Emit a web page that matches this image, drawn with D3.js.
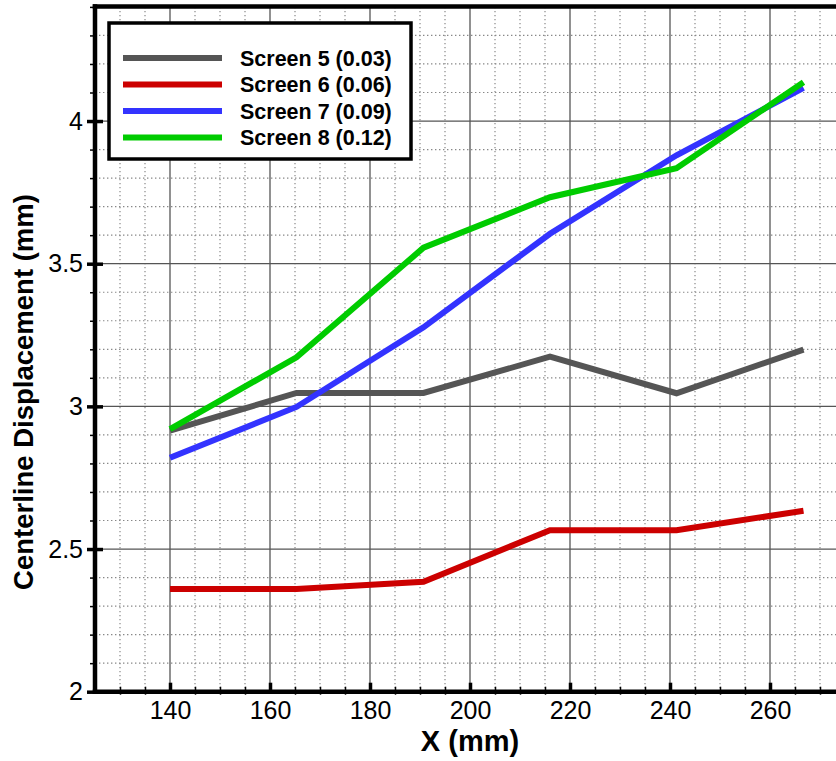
<!DOCTYPE html>
<html>
<head>
<meta charset="utf-8">
<script src="https://cdn.jsdelivr.net/npm/d3@7"></script>
<style>
  html, body { margin: 0; padding: 0; background: #fff; }
  svg { display: block; font-family: "Liberation Sans", Arial, Helvetica, sans-serif; }
</style>
</head>
<body>
<svg id="chart" width="836" height="761"></svg>
<script>
// Centerline displacement along X for four screen porosities
const xPositions = [140, 165.3, 190.7, 216, 241.3, 266.7];
const seriesNames = ["Screen 5 (0.03)", "Screen 6 (0.06)", "Screen 7 (0.09)", "Screen 8 (0.12)"];
const screen5 = [2.915, 3.047, 3.047, 3.174, 3.046, 3.199];
const screen6 = [2.36, 2.36, 2.385, 2.566, 2.566, 2.634];
const screen7 = [2.82, 2.998, 3.277, 3.605, 3.88, 4.116];
const screen8 = [2.92, 3.172, 3.556, 3.733, 3.835, 4.136];
const seriesColors = ["#555555", "#cc0000", "#3333ff", "#00cc00"];

const xMajorTicks = [140, 160, 180, 200, 220, 240, 260];
const yMajorTicks = [2, 2.5, 3, 3.5, 4];
const xTitle = "X (mm)";
const yTitle = "Centerline Displacement (mm)";

const svg = d3.select("#chart");
const left = 95, bottom = 691.7;

const x = d3.scaleLinear().domain([125, 275]).range([left, 845]);
const y = d3.scaleLinear().domain([2, 4.4]).range([bottom, 6.9]);

const plotRight = 836;

// minor grid (dotted)
const xMinor = d3.range(130, 276, 5).filter(v => xMajorTicks.indexOf(v) < 0);
const yMinor = d3.range(21, 45, 1).map(v => v / 10).filter(v => yMajorTicks.every(t => Math.abs(t - v) > 1e-6));

const grid = svg.append("g");
grid.selectAll(".vmin").data(xMinor).join("line")
  .attr("x1", d => x(d)).attr("x2", d => x(d))
  .attr("y1", y(4.4)).attr("y2", bottom)
  .attr("stroke", "#888").attr("stroke-width", 1.2).attr("stroke-dasharray", "1.4,2.6");
grid.selectAll(".hmin").data(yMinor).join("line")
  .attr("x1", left).attr("x2", plotRight)
  .attr("y1", d => y(d)).attr("y2", d => y(d))
  .attr("stroke", "#888").attr("stroke-width", 1.2).attr("stroke-dasharray", "1.4,2.6");

// major grid (solid)
grid.selectAll(".vmaj").data(xMajorTicks).join("line")
  .attr("x1", d => x(d)).attr("x2", d => x(d))
  .attr("y1", y(4.4)).attr("y2", bottom)
  .attr("stroke", "#555").attr("stroke-width", 1.3);
grid.selectAll(".hmaj").data(yMajorTicks.slice(1)).join("line")
  .attr("x1", left).attr("x2", plotRight)
  .attr("y1", d => y(d)).attr("y2", d => y(d))
  .attr("stroke", "#555").attr("stroke-width", 1.3);

// data lines
const allSeries = [screen5, screen6, screen7, screen8];
const line = d3.line().x((d, i) => x(xPositions[i])).y(d => y(d));
svg.append("g").selectAll("path").data(allSeries).join("path")
  .attr("d", d => line(d))
  .attr("fill", "none")
  .attr("stroke", (d, i) => seriesColors[i])
  .attr("stroke-width", 6)
  .attr("stroke-linejoin", "miter");

// x axis: minor ticks, then major ticks with labels
svg.append("g").attr("transform", `translate(0,${bottom})`)
  .call(d3.axisBottom(x).tickValues(xMinor).tickSize(-5).tickFormat(""))
  .call(g => g.select(".domain").remove())
  .call(g => g.selectAll(".tick line").attr("stroke", "#000").attr("stroke-width", 1.5).attr("y2", -5).attr("y1", 3));
svg.append("g").attr("transform", `translate(0,${bottom})`)
  .call(d3.axisBottom(x).tickValues(xMajorTicks).tickSizeInner(-9).tickSizeOuter(0).tickPadding(10).tickFormat(d3.format("d")))
  .call(g => g.select(".domain").remove())
  .call(g => g.selectAll(".tick line").attr("stroke", "#000").attr("stroke-width", 3.5))
  .call(g => g.selectAll(".tick text").attr("font-size", 25).attr("fill", "#000").attr("font-family", "Liberation Sans, Arial, sans-serif"));

// y axis: minor ticks outside, major ticks crossing the axis
svg.append("g").attr("transform", `translate(${left},0)`)
  .call(d3.axisLeft(y).tickValues(yMinor).tickSize(5).tickFormat(""))
  .call(g => g.select(".domain").remove())
  .call(g => g.selectAll(".tick line").attr("stroke", "#000").attr("stroke-width", 1.5));
svg.append("g").attr("transform", `translate(${left},0)`)
  .call(d3.axisLeft(y).tickValues(yMajorTicks).tickSizeInner(8).tickSizeOuter(0).tickPadding(4).tickFormat(d3.format("")))
  .call(g => g.select(".domain").remove())
  .call(g => g.selectAll(".tick line").attr("stroke", "#000").attr("stroke-width", 3.5).attr("x2", 8).attr("x1", -8))
  .call(g => g.selectAll(".tick text").attr("font-size", 25).attr("fill", "#000").attr("font-family", "Liberation Sans, Arial, sans-serif"));

// frame: left, bottom and top borders
const frame = svg.append("g").attr("stroke", "#000").attr("stroke-width", 4.5).attr("stroke-linecap", "square");
frame.append("line").attr("x1", left).attr("x2", left).attr("y1", y(4.4) - 0.5).attr("y2", bottom);
frame.append("line").attr("x1", left).attr("x2", plotRight + 5).attr("y1", bottom).attr("y2", bottom);
frame.append("line").attr("x1", left).attr("x2", plotRight + 5).attr("y1", y(4.4) - 0.5).attr("y2", y(4.4) - 0.5);

// axis titles
svg.append("text")
  .attr("x", 470).attr("y", 751)
  .attr("text-anchor", "middle")
  .attr("font-size", 29).attr("font-weight", "bold")
  .text(xTitle);
svg.append("text")
  .attr("transform", `translate(33,${392}) rotate(-90)`)
  .attr("text-anchor", "middle")
  .attr("font-size", 27.5).attr("font-weight", "bold")
  .text(yTitle);

// legend
const legend = svg.append("g");
legend.append("rect")
  .attr("x", 109).attr("y", 23).attr("width", 302).attr("height", 136)
  .attr("fill", "#fff").attr("stroke", "#000").attr("stroke-width", 3.5);
const rowY = [58, 84.5, 111, 137.5];
const items = legend.selectAll("g.item").data(seriesNames).join("g")
  .attr("transform", (d, i) => `translate(0,${rowY[i]})`);
items.append("line")
  .attr("x1", 123).attr("x2", 222).attr("y1", 0).attr("y2", 0)
  .attr("stroke", (d, i) => seriesColors[i]).attr("stroke-width", 6);
items.append("text")
  .attr("x", 240).attr("y", 0).attr("dy", "0.36em")
  .attr("font-size", 21.5).attr("font-weight", "bold")
  .text(d => d);
</script>
</body>
</html>
